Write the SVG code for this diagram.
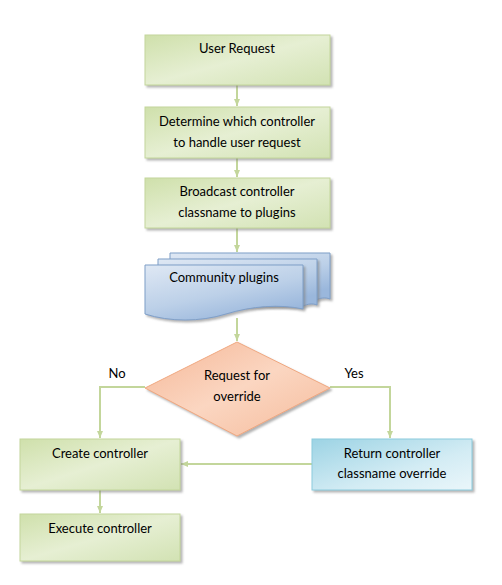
<svg xmlns="http://www.w3.org/2000/svg" width="502" height="585" viewBox="0 0 502 585">
<defs>
<linearGradient id="gGreen" x1="0" y1="0" x2="1" y2="1">
<stop offset="0" stop-color="#cfe0ab"/><stop offset="0.5" stop-color="#e6efd3"/><stop offset="1" stop-color="#d2e2b3"/>
</linearGradient>
<linearGradient id="gBlue" x1="0" y1="0" x2="0.6" y2="1">
<stop offset="0" stop-color="#dfe8f4"/><stop offset="0.6" stop-color="#bcd0e8"/><stop offset="1" stop-color="#9ab7dc"/>
</linearGradient>
<linearGradient id="gOrange" x1="0" y1="0" x2="1" y2="1">
<stop offset="0" stop-color="#f5b797"/><stop offset="0.5" stop-color="#fbd6c1"/><stop offset="1" stop-color="#f5bb9b"/>
</linearGradient>
<linearGradient id="gCyan" x1="0" y1="0" x2="1" y2="1">
<stop offset="0" stop-color="#9cd3e4"/><stop offset="0.6" stop-color="#d3ecf4"/><stop offset="1" stop-color="#eaf6fa"/>
</linearGradient>
<marker id="arr" markerWidth="8" markerHeight="8" refX="7" refY="4" orient="auto" markerUnits="userSpaceOnUse">
<path d="M0,1 L7,4 L0,7 Z" fill="#c3d69b"/>
</marker>
<filter id="sh" x="-10%" y="-10%" width="130%" height="140%">
<feDropShadow dx="2" dy="2" stdDeviation="1" flood-color="#808080" flood-opacity="0.6"/>
</filter>
</defs>
<style>
.box{fill:url(#gGreen);stroke:#c3d69b;stroke-width:1;filter:url(#sh)}
.doc{fill:url(#gBlue);stroke:#7f9fc8;stroke-width:1;filter:url(#sh)}
.t{font-family:Lato,"Open Sans",sans-serif;font-size:13px;fill:#000;text-anchor:middle}
.c{fill:none;stroke:#c3d69b;stroke-width:2}
</style>
<rect width="502" height="585" fill="#fff"/>
<g id="connectors">
<path class="c" d="M237,85 V106" marker-end="url(#arr)"/>
<path class="c" d="M237,158 V177" marker-end="url(#arr)"/>
<path class="c" d="M237,228 V252" marker-end="url(#arr)"/>
<path class="c" d="M237,318 V341" marker-end="url(#arr)"/>
<path class="c" d="M145,387 H100 V438" marker-end="url(#arr)"/>
<path class="c" d="M330,387 H390 V438" marker-end="url(#arr)"/>
<path class="c" d="M312,464 H181" marker-end="url(#arr)"/>
<path class="c" d="M100,490 V513" marker-end="url(#arr)"/>
</g>
<g id="n1"><rect class="box" x="145" y="35" width="185" height="50"/><text class="t" x="237" y="53">User Request</text></g>
<g id="n2"><rect class="box" x="145" y="107" width="185" height="51"/><text class="t" x="237" y="126">Determine which controller</text><text class="t" x="237" y="147">to handle user request</text></g>
<g id="n3"><rect class="box" x="145" y="178" width="185" height="50"/><text class="t" x="237" y="196">Broadcast controller</text><text class="t" x="237" y="217">classname to plugins</text></g>
<g id="n4">
<path class="doc" d="M170,253 H330 V299 C325,297 320,298 316,300 L170,300 Z"/>
<path class="doc" d="M158,259 H317 V305 C312,303 308,304 303,306 L158,306 Z"/>
<path class="doc" d="M145,265 H303 V309 C280,304 252,306 226,314 C200,322 170,322 145,314 Z"/>
<text class="t" x="224" y="282">Community plugins</text>
</g>
<g id="n5"><path d="M237,342 L330,388 L237,436 L145,388 Z" fill="url(#gOrange)" stroke="#f0a880" stroke-width="1" filter="url(#sh)"/><text class="t" x="237" y="380">Request for</text><text class="t" x="237" y="401">override</text></g>
<text class="t" x="117" y="378">No</text>
<text class="t" x="354" y="378">Yes</text>
<g id="n6"><rect class="box" x="20" y="439" width="160" height="51"/><text class="t" x="100" y="458">Create controller</text></g>
<g id="n7"><rect x="312" y="439" width="160" height="51" fill="url(#gCyan)" stroke="#8ccbdd" stroke-width="1" filter="url(#sh)"/><text class="t" x="392" y="458">Return controller</text><text class="t" x="392" y="478">classname override</text></g>
<g id="n8"><rect class="box" x="20" y="514" width="160" height="47"/><text class="t" x="100" y="533">Execute controller</text></g>
</svg>
